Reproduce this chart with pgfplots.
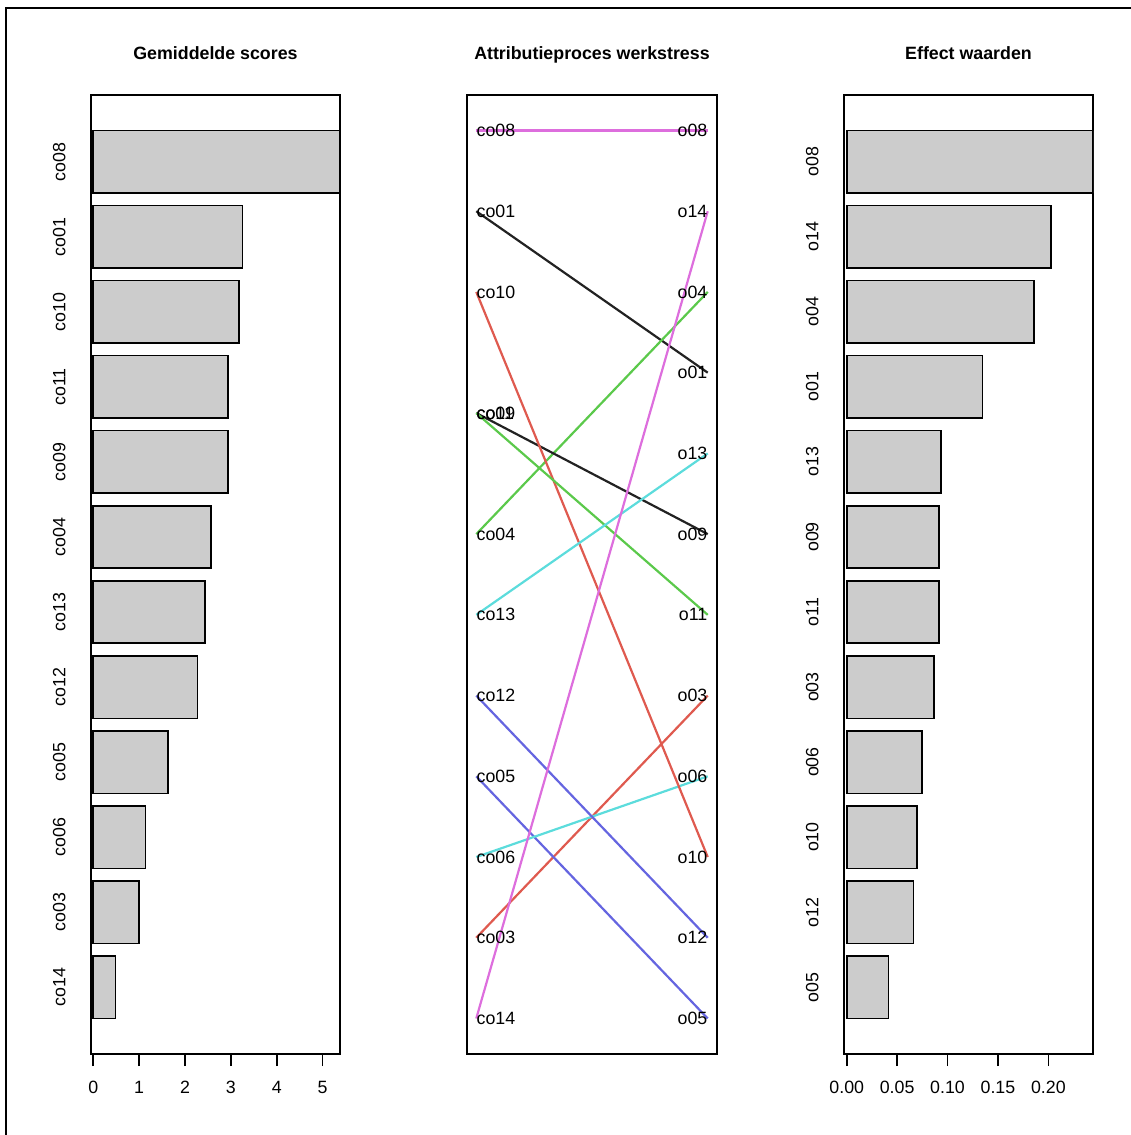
\documentclass[border=0pt]{standalone}
\usepackage{fontspec}
\setmainfont{Liberation Sans}
\usepackage{pgfplots}
\pgfplotsset{compat=1.18}
\newcommand{\fs}{\fontsize{8.9}{10.5}\selectfont}
\definecolor{rgray}{HTML}{CCCCCC}
\definecolor{cblack}{HTML}{222222}
\definecolor{cred}{HTML}{DF5A4F}
\definecolor{cgreen}{HTML}{5BC94B}
\definecolor{cblue}{HTML}{6565E0}
\definecolor{ccyan}{HTML}{5CDCDC}
\definecolor{cmag}{HTML}{DD6EDD}
\pgfplotsset{
  rbase/.style={
    scale only axis,
    height=479.5pt,
    anchor=south west,
    axis line style={line width=0.8pt},
    /pgf/number format/assume math mode=true,
    tick label style={font=\fs},
    title style={font=\fs\bfseries, at={(0.5,1)}, anchor=base, yshift=11.8pt},
  },
  rbar/.style={
    rbase,
    xbar,
    width=124.5pt,
    bar width=0.8333,
    ymin=0.11, ymax=12.89,
    ytick={1,...,12},
    tick pos=left,
    ytick style={draw=none},
    xtick align=outside,
    major tick length=6pt,
    xtick style={line width=0.8pt, black},
    yticklabel style={xshift=-6.5pt, rotate=90, anchor=south, inner sep=0pt},
    xticklabel style={inner sep=0pt, anchor=north, yshift=-7.25pt},
    scaled x ticks=false,
  },
  rline/.style={line width=1.1pt},
}
\begin{document}
\begin{tikzpicture}
\useasboundingbox (0,0) rectangle (565pt,567.5pt);
\draw[line width=1pt] (2.85pt,-2pt) -- (2.85pt,563.3pt) -- (567pt,563.3pt);

% Left panel
\begin{axis}[rbar, at={(45.5pt,40.5pt)},
  xmin=-0.05, xmax=5.377,
  xtick={0,1,2,3,4,5},
  yticklabels={co14,co03,co06,co05,co12,co13,co04,co09,co11,co10,co01,co08},
  title={Gemiddelde scores}]
\addplot[fill=rgray, draw=black, line width=0.8pt] coordinates {
 (0.48,1) (1.00,2) (1.14,3) (1.63,4) (2.27,5) (2.44,6)
 (2.57,7) (2.94,8) (2.94,9) (3.18,10) (3.25,11) (5.377,12)};
\end{axis}

% Middle panel
\begin{axis}[rbase, at={(233.5pt,40.5pt)}, width=125pt,
  xmin=-0.04, xmax=1.04, ymin=0.56, ymax=12.44,
  xtick=\empty, ytick=\empty,
  title={Attributieproces werkstress}]
\addplot[rline, cblack] coordinates {(0,11) (1,9)};   % 01
\addplot[rline, cred]   coordinates {(0,2) (1,5)};    % 03
\addplot[rline, cgreen] coordinates {(0,7) (1,10)};   % 04
\addplot[rline, cblue]  coordinates {(0,4) (1,1)};    % 05
\addplot[rline, ccyan]  coordinates {(0,3) (1,4)};    % 06
\addplot[rline, cmag]   coordinates {(0,12) (1,12)};  % 08
\addplot[rline, cblack] coordinates {(0,8.5) (1,7)};  % 09
\addplot[rline, cred]   coordinates {(0,10) (1,3)};   % 10
\addplot[rline, cgreen] coordinates {(0,8.5) (1,6)};  % 11
\addplot[rline, cblue]  coordinates {(0,5) (1,2)};    % 12
\addplot[rline, ccyan]  coordinates {(0,6) (1,8)};    % 13
\addplot[rline, cmag]   coordinates {(0,1) (1,11)};   % 14
\addplot[draw=none, mark=none, nodes near coords, point meta=explicit symbolic,
  nodes near coords style={anchor=west, inner sep=0pt, font=\fs, text=black}]
  table[meta=lab] {
x y lab
0 12 co08
0 11 co01
0 10 co10
0 8.5 co11
0 8.5 co09
0 7 co04
0 6 co13
0 5 co12
0 4 co05
0 3 co06
0 2 co03
0 1 co14
};
\addplot[draw=none, mark=none, nodes near coords, point meta=explicit symbolic,
  nodes near coords style={anchor=east, inner sep=0pt, font=\fs, text=black}]
  table[meta=lab] {
x y lab
1 12 o08
1 11 o14
1 10 o04
1 9 o01
1 8 o13
1 7 o09
1 6 o11
1 5 o03
1 4 o06
1 3 o10
1 2 o12
1 1 o05
};
\end{axis}

% Right panel
\begin{axis}[rbar, at={(422pt,40.5pt)},
  xmin=-0.0027, xmax=0.2443,
  xtick={0,0.05,0.1,0.15,0.2},
  xticklabel style={/pgf/number format/.cd, fixed, fixed zerofill, precision=2},
  yticklabels={o05,o12,o10,o06,o03,o11,o09,o13,o01,o04,o14,o08},
  title={Effect waarden}]
\addplot[fill=rgray, draw=black, line width=0.8pt] coordinates {
 (0.0413,1) (0.0661,2) (0.0700,3) (0.0744,4) (0.0866,5) (0.0913,6)
 (0.0913,7) (0.0938,8) (0.1345,9) (0.1858,10) (0.2027,11) (0.2443,12)};
\end{axis}
\end{tikzpicture}
\end{document}
